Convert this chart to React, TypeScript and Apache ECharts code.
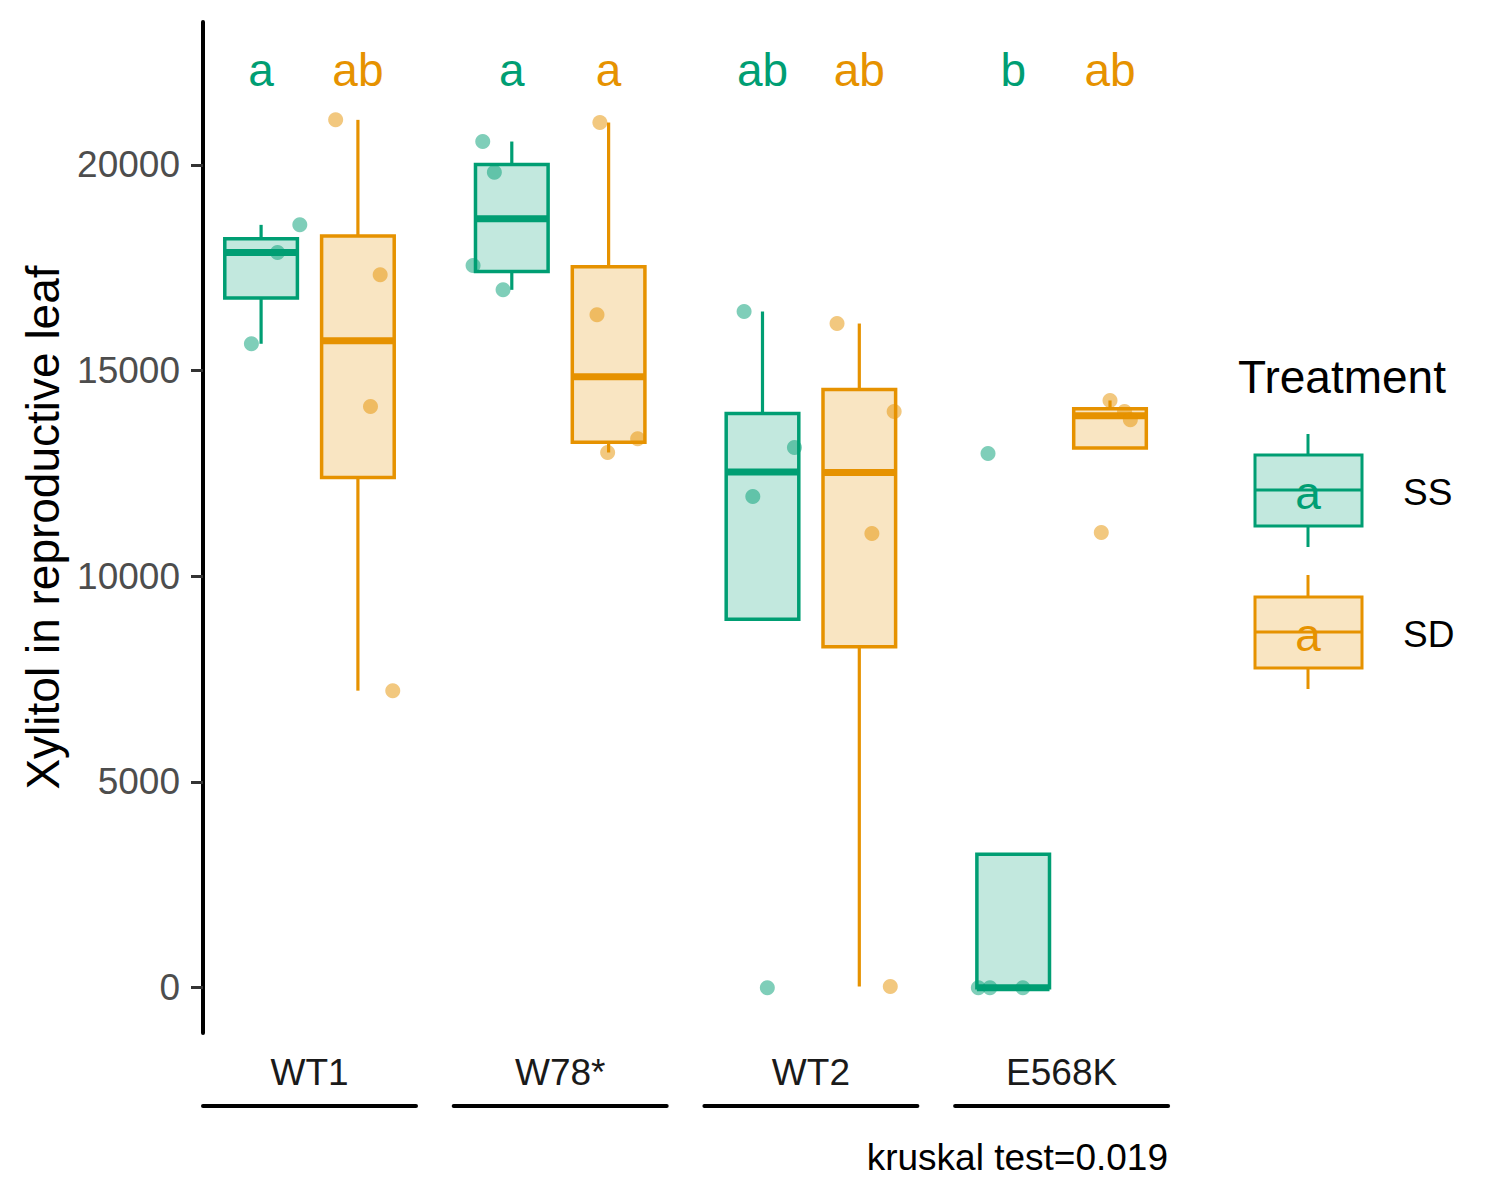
import React, { useEffect, useRef } from 'react';
import * as echarts from 'echarts';

const genotypes = ['WT1', 'W78*', 'WT2', 'E568K'];
const treatments = ['SS', 'SD'];
const treatmentColors = ['#009E73', '#E69200'];
const treatmentFills = ['rgba(0,158,115,0.24)', 'rgba(230,146,0,0.24)'];
const pointColors = ['rgba(0,158,115,0.5)', 'rgba(230,146,0,0.5)'];

// raw values per genotype, with horizontal jitter offsets (category units)
const ssValues = [
  [15650, 17870, 18540],
  [20565, 19821, 17552, 16961],
  [16434, 13129, 11939, 0],
  [12984, 0, 0, 0],
];
const ssJitter = [
  [-0.1, 0.17, 0.4],
  [-0.3, -0.18, -0.4, -0.09],
  [-0.19, 0.33, -0.1, 0.05],
  [-0.26, -0.36, -0.24, 0.1],
];
const sdValues = [
  [21092, 17326, 14125, 7220],
  [21027, 16354, 13341, 13008],
  [16142, 14004, 11040, 30],
  [14272, 14004, 13802, 11064],
];
const sdJitter = [
  [-0.23, 0.23, 0.13, 0.36],
  [-0.09, -0.12, 0.3, -0.01],
  [-0.23, 0.36, 0.13, 0.32],
  [0.0, 0.15, 0.21, -0.09],
];
const ssLetters = ['a', 'a', 'ab', 'b'];
const sdLetters = ['ab', 'a', 'ab', 'ab'];
const letterY = 22300;
const yTicks = [0, 5000, 10000, 15000, 20000];
const kruskalText = 'kruskal test=0.019';

const FONT = '"Liberation Sans", Arial, sans-serif';

// quantile type 7 like R
const quantile = (s: number[], p: number) => {
  const h = (s.length - 1) * p;
  const lo = Math.floor(h);
  const next = lo + 1 < s.length ? s[lo + 1] : s[lo];
  return s[lo] + (h - lo) * (next - s[lo]);
};

const boxStats = (vals: number[]) => {
  const s = [...vals].sort((a, b) => a - b);
  const q1 = quantile(s, 0.25);
  const med = quantile(s, 0.5);
  const q3 = quantile(s, 0.75);
  const iqr = q3 - q1;
  const inside = s.filter((v) => v >= q1 - 1.5 * iqr && v <= q3 + 1.5 * iqr);
  return [Math.min(inside[0], q1), q1, med, q3, Math.max(inside[inside.length - 1], q3)];
};

const PANEL_LEFT = 203;
const PANEL_WIDTH = 213;
const PANEL_STEP = 250.7;

const App: React.FC = () => {
  const chartRef = useRef<HTMLDivElement>(null);

  useEffect(() => {
    if (!chartRef.current) return;
    const chart = echarts.init(chartRef.current, undefined, { renderer: 'svg' });

    const grids: any[] = [];
    const xAxes: any[] = [];
    const yAxes: any[] = [];
    const series: any[] = [];

    genotypes.forEach((g, i) => {
      grids.push({ left: PANEL_LEFT + i * PANEL_STEP, top: 22, width: PANEL_WIDTH, height: 1011 });
      xAxes.push({
        type: 'value',
        gridIndex: i,
        min: 0.4,
        max: 2.6,
        position: 'bottom',
        offset: 73,
        axisLine: { show: true, onZero: false, lineStyle: { color: '#000', width: 4 } },
        axisTick: { show: false },
        axisLabel: { show: false },
        splitLine: { show: false },
        name: g,
        nameLocation: 'middle',
        nameGap: -34,
        nameTextStyle: { fontSize: 37, color: '#1a1a1a', fontFamily: FONT, verticalAlign: 'middle' },
      });
      yAxes.push({
        type: 'value',
        gridIndex: i,
        min: -1100,
        max: 23470,
        show: i === 0,
        axisLine: { show: true, onZero: false, lineStyle: { color: '#000', width: 4 } },
        axisTick: { show: true, length: 12, customValues: yTicks, lineStyle: { color: '#333', width: 3 } },
        axisLabel: {
          customValues: yTicks,
          formatter: (v: number) => String(v),
          fontSize: 37,
          color: '#4d4d4d',
          fontFamily: FONT,
          margin: 23,
        },
        splitLine: { show: false },
        name: i === 0 ? 'Xylitol in reproductive leaf' : '',
        nameLocation: 'middle',
        nameGap: 137,
        nameTextStyle: { fontSize: 46, color: '#000', fontFamily: FONT },
      });

      const boxData = [
        [1, ...boxStats(ssValues[i]), 0],
        [2, ...boxStats(sdValues[i]), 1],
      ];
      series.push({
        type: 'custom',
        xAxisIndex: i,
        yAxisIndex: i,
        encode: { x: 0, y: 3 },
        data: boxData,
        renderItem: (params: any, api: any) => {
          const x = api.value(0);
          const t = api.value(6);
          const lo = api.value(1);
          const q1 = api.value(2);
          const med = api.value(3);
          const q3 = api.value(4);
          const hi = api.value(5);
          const half = api.size([0.75, 0])[0] / 2;
          const cx = api.coord([x, med])[0];
          const y = (v: number) => api.coord([x, v])[1];
          const color = treatmentColors[t];
          const children: any[] = [];
          if (hi > q3) {
            children.push({ type: 'line', shape: { x1: cx, y1: y(q3), x2: cx, y2: y(hi) }, style: { stroke: color, lineWidth: 3.2 } });
          }
          if (lo < q1) {
            children.push({ type: 'line', shape: { x1: cx, y1: y(q1), x2: cx, y2: y(lo) }, style: { stroke: color, lineWidth: 3.2 } });
          }
          children.push({
            type: 'rect',
            shape: { x: cx - half, y: y(q3), width: half * 2, height: y(q1) - y(q3) },
            style: { fill: treatmentFills[t], stroke: color, lineWidth: 3.5 },
          });
          children.push({
            type: 'line',
            shape: { x1: cx - half, y1: y(med), x2: cx + half, y2: y(med) },
            style: { stroke: color, lineWidth: 7 },
          });
          return { type: 'group', children };
        },
        z: 2,
      });

      [ssValues[i], sdValues[i]].forEach((vals, t) => {
        const jit = t === 0 ? ssJitter[i] : sdJitter[i];
        series.push({
          type: 'scatter',
          xAxisIndex: i,
          yAxisIndex: i,
          symbolSize: 15,
          itemStyle: { color: pointColors[t], opacity: 1 },
          data: vals.map((v, k) => [t + 1 + jit[k], v]),
          z: 3,
        });
      });

      series.push({
        type: 'scatter',
        xAxisIndex: i,
        yAxisIndex: i,
        symbolSize: 1,
        itemStyle: { color: 'rgba(0,0,0,0)', opacity: 1 },
        label: { show: true, position: 'inside', formatter: '{b}', fontSize: 46, fontFamily: FONT },
        data: [
          { name: ssLetters[i], value: [1, letterY], label: { color: treatmentColors[0] } },
          { name: sdLetters[i], value: [2, letterY], label: { color: treatmentColors[1] } },
        ],
        z: 4,
      });
    });

    // legend glyphs
    const legendKeys = [
      { top: 455, bottom: 526, med: 490, wTop: 434, wBot: 547, labelY: 492 },
      { top: 597, bottom: 668, med: 632, wTop: 575, wBot: 689, labelY: 634 },
    ];
    const legendGraphic: any[] = [
      {
        type: 'text',
        x: 1238,
        y: 377,
        style: { text: 'Treatment', fontSize: 46, fontFamily: FONT, fill: '#000', textVerticalAlign: 'middle' },
      },
    ];
    legendKeys.forEach((k, t) => {
      const color = treatmentColors[t];
      legendGraphic.push(
        { type: 'line', shape: { x1: 1308, y1: k.wTop, x2: 1308, y2: k.top }, style: { stroke: color, lineWidth: 3 } },
        { type: 'line', shape: { x1: 1308, y1: k.bottom, x2: 1308, y2: k.wBot }, style: { stroke: color, lineWidth: 3 } },
        {
          type: 'rect',
          shape: { x: 1255, y: k.top, width: 107, height: k.bottom - k.top },
          style: { fill: treatmentFills[t], stroke: color, lineWidth: 3 },
        },
        { type: 'line', shape: { x1: 1255, y1: k.med, x2: 1362, y2: k.med }, style: { stroke: color, lineWidth: 3 } },
        {
          type: 'text',
          x: 1308,
          y: k.med + 3,
          style: { text: 'a', fontSize: 46, fontFamily: FONT, fill: color, textAlign: 'center', textVerticalAlign: 'middle' },
        },
        {
          type: 'text',
          x: 1403,
          y: k.labelY,
          style: { text: treatments[t], fontSize: 37, fontFamily: FONT, fill: '#000', textVerticalAlign: 'middle' },
        }
      );
    });

    chart.setOption({
      animation: false,
      backgroundColor: '#fff',
      grid: grids,
      xAxis: xAxes,
      yAxis: yAxes,
      series,
      graphic: [
        ...legendGraphic,
        {
          type: 'text',
          x: 1168,
          y: 1157,
          style: { text: kruskalText, fontSize: 37, fontFamily: FONT, fill: '#000', textAlign: 'right', textVerticalAlign: 'middle' },
        },
      ],
    });

    return () => {
      chart.dispose();
    };
  }, []);

  return (
    <div
      ref={chartRef}
      style={{ position: 'absolute', left: 0, top: 0, width: '1500px', height: '1200px', background: '#fff' }}
    ></div>
  );
};

export default App;
